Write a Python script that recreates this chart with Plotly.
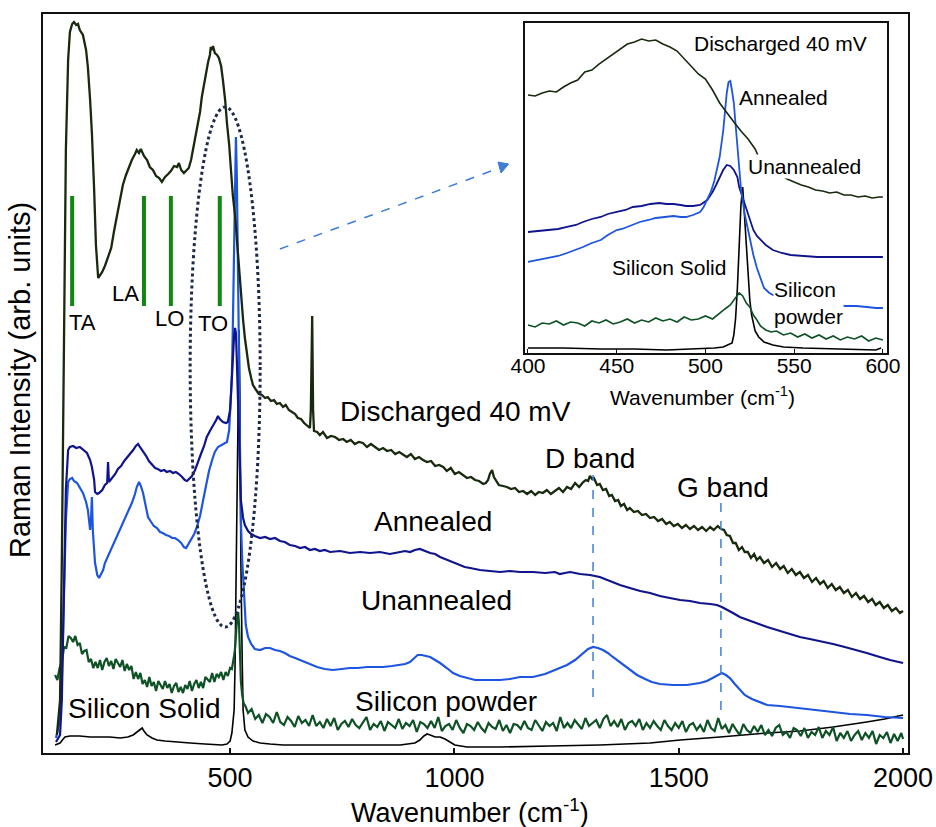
import plotly.graph_objects as go

FONT = "Liberation Sans, Arial, Helvetica, sans-serif"

# ---------------- main spectra: (wavenumber cm-1, intensity arb. units) ----------------
DISCHARGED = [(114,18),(121,53),(125,193),(130,403),(134,603),(139,693),(143,721),(148,729),(152,731),(157,728),
(161,729),(165,723),(172,718),(179,703),(183,686),(188,653),(192,620),(197,563),(201,508),(206,475),(210,478),
(215,481),(221,487),(228,495),(235,505),(241,521),(248,538),(255,557),(261,568),(268,578),(275,587),(281,593),
(288,599),(292,603),(297,600),(301,604),(308,597),(315,593),(321,586),(328,583),(335,577),(342,575),(348,571),
(355,576),(362,579),(368,582),(375,587),(382,586),(386,590),(391,583),(397,580),(404,583),(408,585),(413,593),
(417,603),(422,613),(426,625),(433,641),(437,656),(442,668),(446,681),(451,691),(455,698),(457,706),(460,703),
(462,707),(466,700),(471,698),(475,695),(480,687),(484,673),(489,653),(493,630),(498,608),(502,583),(506,558),
(511,538),(515,513),(520,488),(524,458),(529,433),(533,415),(538,398),(542,385),(547,375),(551,368),(558,363),
(564,359),(571,358),(578,355),(584,356),(591,352),(598,353),(604,349),(611,350),(618,346),(624,348),(631,343),
(638,341),(645,339),(651,335),(658,334),(665,330),(671,328),(678,325),(680,343),(683,437),(685,343),(687,322),
(694,321),(700,318),(707,321),(716,315),(725,317),(734,316),(743,313),(752,314),(760,311),(769,313),(778,309),
(787,311),(796,310),(805,306),(814,309),(823,306),(832,303),(841,305),(850,302),(859,303),(868,299),(877,301),
(885,299),(894,296),(903,299),(912,294),(921,296),(930,293),(939,291),(948,292),(957,287),(966,288),(975,286),
(983,282),(992,285),(1001,279),(1010,281),(1019,278),(1028,275),(1037,276),(1046,273),(1055,272),(1064,269),
(1070,270),(1075,273),(1079,279),(1084,283),(1088,276),(1093,272),(1099,268),(1108,267),(1117,266),(1126,264),
(1135,265),(1144,261),(1153,262),(1162,259),(1171,262),(1180,258),(1188,261),(1197,260),(1206,263),(1215,259),
(1224,262),(1233,265),(1242,261),(1251,266),(1260,264),(1269,270),(1278,266),(1287,271),(1293,273),(1298,272),
(1302,277),(1307,274),(1311,275),(1318,268),(1324,269),(1331,263),(1338,264),(1345,257),(1351,258),(1358,252),
(1365,253),(1371,247),(1378,249),(1385,243),(1391,245),(1400,241),(1409,242),(1418,238),(1427,239),(1436,235),
(1445,236),(1454,232),(1463,234),(1472,229),(1480,231),(1489,227),(1498,229),(1507,225),(1516,228),(1525,224),
(1534,227),(1543,223),(1552,226),(1561,222),(1570,226),(1578,223),(1587,227),(1594,224),(1601,223),(1607,218),
(1614,217),(1621,210),(1627,210),(1634,203),(1641,206),(1647,201),(1654,201),(1661,195),(1668,199),(1674,193),
(1681,196),(1690,190),(1699,193),(1708,186),(1717,190),(1726,184),(1734,187),(1743,180),(1752,184),(1761,178),
(1770,181),(1779,175),(1788,178),(1797,171),(1806,175),(1815,169),(1823,172),(1832,165),(1841,169),(1850,163),
(1859,166),(1868,160),(1877,163),(1886,156),(1895,160),(1904,154),(1913,157),(1922,151),(1931,154),(1939,148),
(1948,151),(1957,145),(1966,148),(1975,142),(1984,145),(1993,140),(2000,142)]

ANNEALED = [(112,11),(121,18),(125,53),(130,153),(134,263),(139,303),(143,306),(150,307),(157,305),(165,306),
(174,303),(181,300),(188,293),(192,286),(197,273),(199,261),(204,259),(208,260),(215,263),(221,268),(226,270),
(228,291),(230,271),(237,275),(244,279),(250,284),(257,287),(264,292),(270,295),(277,299),(284,303),(290,307),
(295,309),(299,306),(306,302),(313,297),(319,292),(326,288),(333,285),(339,284),(346,282),(353,283),(359,281),
(366,282),(373,280),(379,281),(386,279),(393,276),(399,273),(404,272),(408,274),(415,277),(422,283),(428,291),
(435,299),(442,307),(448,316),(455,322),(462,327),(469,333),(473,337),(477,334),(484,331),(491,330),(495,331),
(500,343),(502,358),(504,375),(506,398),(509,418),(511,425),(513,420),(515,393),(518,353),(520,313),(522,278),
(524,253),(529,235),(533,228),(540,222),(547,219),(555,217),(567,215),(578,216),(589,214),(600,215),(611,212),
(622,211),(633,208),(645,207),(656,205),(667,206),(678,203),(689,204),(700,202),(711,203),(723,201),(745,202),
(767,200),(790,201),(812,200),(834,201),(856,199),(879,201),(890,202),(901,201),(912,203),(923,204),(934,202),
(946,200),(957,199),(968,196),(979,194),(990,192),(1001,190),(1012,188),(1023,186),(1035,185),(1057,183),
(1079,182),(1102,181),(1124,182),(1146,181),(1175,181),(1202,180),(1224,181),(1235,179),(1246,180),(1258,181),
(1280,179),(1302,178),(1324,176),(1347,172),(1369,168),(1391,165),(1414,162),(1436,160),(1458,157),(1480,155),
(1503,153),(1525,152),(1547,150),(1570,149),(1585,148),(1596,146),(1607,143),(1621,140),(1636,136),(1659,132),
(1681,128),(1697,126),(1726,122),(1748,119),(1770,116),(1792,114),(1815,112),(1844,109),(1870,106),(1897,103),
(1919,100),(1948,96),(1971,93),(2000,90)]

UNANNEALED = [(112,15),(121,33),(125,73),(130,153),(134,233),(139,271),(143,274),(148,275),(152,272),(159,270),
(165,266),(172,260),(179,251),(183,243),(188,223),(190,233),(192,256),(194,223),(199,190),(204,178),(208,175),
(212,178),(217,183),(221,190),(228,197),(235,203),(241,210),(248,216),(255,223),(261,229),(268,236),(275,243),
(281,250),(288,259),(292,266),(297,271),(301,267),(306,260),(310,250),(317,236),(324,231),(330,227),(337,225),
(344,221),(350,220),(357,218),(364,217),(371,215),(377,215),(384,213),(391,210),(397,206),(402,205),(406,208),
(413,213),(420,219),(426,226),(433,237),(440,253),(446,268),(453,282),(460,293),(466,301),(473,306),(480,308),
(486,309),(493,311),(498,323),(500,340),(502,358),(504,378),(506,423),(509,503),(511,583),(513,616),(515,578),
(518,493),(520,393),(522,303),(524,233),(527,193),(531,153),(535,128),(540,116),(547,109),(555,104),(567,103),
(578,105),(589,105),(600,103),(611,102),(622,100),(633,97),(645,95),(656,93),(667,91),(678,89),(694,86),
(711,84),(729,83),(749,84),(767,85),(785,85),(805,86),(823,86),(841,86),(861,87),(879,88),(890,89),(901,91),
(910,95),(918,98),(927,98),(935,97),(946,96),(957,93),(968,90),(983,85),(997,80),(1012,77),(1028,75),(1046,73),
(1064,73),(1084,73),(1102,73),(1124,74),(1146,76),(1175,76),(1202,79),(1224,83),(1251,88),(1269,93),(1287,100),
(1298,104),(1309,106),(1320,105),(1331,103),(1342,100),(1353,96),(1365,92),(1376,88),(1391,83),(1407,78),
(1425,74),(1440,71),(1458,69),(1487,68),(1518,68),(1547,70),(1563,72),(1576,75),(1587,78),(1596,80),(1605,78),
(1614,75),(1625,69),(1636,63),(1647,58),(1663,54),(1681,51),(1697,48),(1726,47),(1748,46),(1770,45),(1803,43),
(1844,41),(1882,39),(1919,38),(1959,36),(2000,35)]

POWDER = [(110,78),(115,73),(120,85),(125,91),(130,106),(135,105),(140,117),(145,115),(150,111),(155,117),
(160,108),(165,110),(170,99),(175,102),(180,103),(185,91),(190,94),(195,85),(200,91),(205,85),(210,93),(215,83),
(220,91),(225,95),(230,87),(235,92),(240,84),(245,94),(250,90),(255,86),(260,93),(265,82),(270,89),(275,83),
(280,87),(285,74),(290,81),(295,74),(300,80),(305,69),(310,73),(315,66),(320,76),(325,67),(330,71),(335,62),
(340,72),(345,68),(350,64),(355,72),(360,65),(365,69),(370,60),(375,67),(380,70),(385,61),(390,66),(395,60),
(400,68),(405,64),(410,72),(415,62),(420,69),(425,73),(430,65),(435,71),(440,65),(445,76),(450,73),(455,71),
(460,80),(465,71),(470,79),(475,76),(480,81),(485,73),(490,81),(495,77),(500,85),(504,84),(507,92),(510,100),
(512,110),(514,125),(516,138),(518,141),(520,128),(522,100),(524,72),(527,58),(530,50),(535,46),(540,40),
(548,44),(556,34),(564,38),(572,30),(580,39),(588,36),(596,30),(604,41),(612,31),(620,28),
(628,36),(636,32),(644,26),(652,37),(660,30),(668,33),(676,27),(684,38),(692,27),(700,31),
(708,25),(716,34),(724,27),(732,35),(740,23),(748,29),(756,32),(764,26),(772,34),(780,28),
(788,25),(796,31),(804,36),(812,23),(820,29),(828,26),(836,32),(844,22),(852,31),(860,28),
(868,25),(876,34),(884,24),(892,30),(900,27),(908,33),(916,21),(924,31),(932,29),(940,25),
(948,32),(956,25),(964,36),(972,22),(980,27),(988,29),(996,23),(1004,33),(1012,25),(1020,20),
(1028,29),(1036,27),(1044,23),(1052,31),(1060,25),(1068,21),(1076,30),(1084,26),(1092,24),(1100,33),
(1108,22),(1116,28),(1124,20),(1132,29),(1140,28),(1148,24),(1156,32),(1164,25),(1172,23),(1180,33),
(1188,27),(1196,22),(1204,31),(1212,27),(1220,30),(1228,22),(1236,36),(1244,25),(1252,30),(1260,25),
(1268,33),(1276,28),(1284,24),(1292,35),(1300,27),(1308,30),(1316,33),(1324,25),(1332,34),(1340,38),
(1348,27),(1356,32),(1364,26),(1372,34),(1380,23),(1388,30),(1396,32),(1404,27),(1412,34),(1420,23),
(1428,30),(1436,25),(1444,32),(1452,27),(1460,23),(1468,33),(1476,27),(1484,23),(1492,30),(1500,25),
(1508,32),(1516,21),(1524,28),(1532,30),(1540,23),(1548,28),(1556,21),(1564,33),(1572,25),(1580,22),
(1588,35),(1596,24),(1604,28),(1612,20),(1620,29),(1628,23),(1636,18),(1644,29),(1652,23),(1660,20),
(1668,27),(1676,21),(1684,28),(1692,18),(1700,23),(1708,17),(1716,25),(1724,28),(1732,18),(1740,21),
(1748,15),(1756,25),(1764,23),(1772,17),(1780,25),(1788,15),(1796,21),(1804,18),(1812,26),(1820,15),
(1828,22),(1836,18),(1844,26),(1852,12),(1860,20),(1868,15),(1876,22),(1884,12),(1892,18),(1900,22),
(1908,13),(1916,20),(1924,15),(1932,22),(1940,9),(1948,18),(1956,15),(1964,21),(1972,10),(1980,19),
(1988,12),(1996,20),(2000,14)]

SOLID = [(110,8),(116,9),(121,10),(128,14),(132,16),(143,17),(165,17),(188,16),(210,16),(232,16),(255,15),
(272,16),(284,18),(292,21),(299,24),(304,25),(308,22),(315,18),(326,15),(337,13),(355,12),(377,11),(411,10),
(444,9),(466,8),(482,8),(493,9),(500,12),(504,20),(509,43),(511,86),(513,173),(515,273),(518,373),(520,423),
(522,353),(524,193),(527,93),(529,43),(533,23),(540,16),(551,12),(567,10),(589,9),(618,8),(656,8),(729,8),
(805,8),(879,8),(912,10),(923,13),(932,17),(939,19),(946,18),(957,16),(968,16),(979,14),(990,11),(1001,8),
(1028,6),(1102,6),(1213,7),(1324,8),(1436,10),(1503,13),(1592,16),(1697,20),(1770,22),(1844,26),(1919,31),
(1959,34),(2000,38)]

# ---------------- inset spectra (400-600 cm-1) ----------------
IN_DISCHARGED = [(400,258),(404,257),(408,260),(412,262),(416,261),(420,266),(424,270),(428,273),(432,281),
(436,283),(440,289),(444,294),(448,299),(452,304),(456,309),(460,311),(464,314),(468,312),(472,313),(476,309),
(480,306),(484,302),(488,294),(492,287),(496,279),(500,274),(504,263),(508,250),(512,240),(516,231),(520,222),
(524,214),(528,204),(530,196),(538,183),(546,174),(550,171),(554,168),(558,166),(562,163),(566,162),(570,160),
(574,161),(578,158),(582,158),(586,156),(590,157),(594,155),(598,156),(600,156)]

IN_ANNEALED = [(400,91),(406,93),(412,95),(417,97),(422,100),(427,103),(431,106),(436,110),(441,113),(445,118),
(450,123),(453,124),(456,126),(460,129),(463,131),(468,133),(472,135),(477,136),(482,137),(486,136),(489,136),
(493,138),(497,141),(499,146),(501,153),(503,161),(505,172),(507,186),(508,196),(510,222),(511,243),(512,260),
(513,271),(514,272),(515,262),(516,250),(517,228),(518,205),(519,180),(520,165),(522,140),(524,122),(525,113),
(527,98),(529,85),(531,75),(533,65),(536,60),(538,58),(550,53),(565,49),(579,47),(585,47),(591,46),(596,45),
(600,45)]

IN_UNANNEALED = [(400,121),(406,122),(412,123),(417,124),(422,126),(427,128),(431,131),(436,134),(441,136),
(445,139),(450,141),(455,143),(459,146),(464,147),(469,149),(474,150),(478,149),(482,149),(486,148),(489,147),
(493,147),(497,148),(501,153),(504,161),(506,168),(508,176),(510,183),(512,188),(514,187),(516,183),(518,176),
(519,166),(521,155),(523,143),(525,133),(527,123),(529,117),(531,113),(534,108),(538,103),(543,100),(548,98),
(555,97),(563,96),(572,96),(581,96),(590,96),(600,96)]

IN_POWDER = [(400,28),(404,26),(408,30),(412,29),(416,32),(420,28),(424,31),(428,30),(432,27),(436,32),(440,30),
(444,33),(448,29),(452,31),(456,34),(460,30),(464,33),(468,31),(472,35),(476,32),(480,34),(484,31),(488,36),
(492,33),(496,34),(500,37),(504,34),(508,40),(511,44),(514,48),(517,55),(519,60),(521,57),(523,50),(525,46),
(527,38),(529,33),(531,27),(534,23),(537,21),(540,22),(544,18),(548,20),(552,16),(556,19),(560,15),(564,18),
(568,14),(572,17),(576,13),(580,16),(584,14),(588,17),(592,12),(596,15),(600,13)]

IN_SOLID = [(400,5),(420,5),(441,4),(460,4),(478,3),(497,4),(505,5),(510,6),(513,8),(515,10),(516,18),(517,35),
(518,65),(519,110),(520,148),(521,166),(522,140),(523,110),(524,80),(525,53),(526,38),(527,28),(528,22),
(530,16),(533,11),(538,8),(544,6),(555,5),(572,4),(590,3),(596,3),(599,5)]

PHONON_MODES = ["TA", "LA", "LO", "TO"]
PHONON_WN = [148, 308, 368, 477]
MAIN_TICKS = [500, 1000, 1500, 2000]
INSET_TICKS = [400, 450, 500, 550, 600]
D_BAND_WN = 1309
G_BAND_WN = 1594

C_DIS = "#18290e"
C_ANN = "#10148c"
C_UNA = "#1e55e0"
C_POW = "#0d5125"
C_SOL = "#000000"
C_BAR = "#138513"
C_ACC = "#3d7fd6"
C_ELL = "#1b2a49"


def split(seq):
    return [p[0] for p in seq], [p[1] for p in seq]


fig = go.Figure()

for data, color, w in [(SOLID, C_SOL, 1.6), (POWDER, C_POW, 2.2), (UNANNEALED, C_UNA, 2.2),
                       (ANNEALED, C_ANN, 2.2), (DISCHARGED, C_DIS, 2.3)]:
    x, y = split(data)
    fig.add_trace(go.Scatter(x=x, y=y, mode="lines", line=dict(color=color, width=w),
                             xaxis="x", yaxis="y", showlegend=False, hoverinfo="skip"))

for data, color, w in [(IN_SOLID, C_SOL, 1.6), (IN_POWDER, C_POW, 1.6), (IN_UNANNEALED, C_ANN, 1.8),
                       (IN_ANNEALED, C_UNA, 1.8), (IN_DISCHARGED, C_DIS, 1.6)]:
    x, y = split(data)
    fig.add_trace(go.Scatter(x=x, y=y, mode="lines", line=dict(color=color, width=w),
                             xaxis="x2", yaxis="y2", showlegend=False, hoverinfo="skip"))

shapes = []
for wn in PHONON_WN:
    shapes.append(dict(type="line", xref="x", yref="y", x0=wn, x1=wn, y0=447, y1=557,
                       line=dict(color=C_BAR, width=4)))
shapes.append(dict(type="circle", xref="x", yref="y", x0=411, x1=567, y0=126, y1=646,
                   line=dict(color=C_ELL, width=3, dash="dot")))
shapes.append(dict(type="line", xref="x", yref="y", x0=D_BAND_WN, x1=D_BAND_WN, y0=56, y1=278,
                   line=dict(color=C_ACC, width=1.5, dash="dash")))
shapes.append(dict(type="line", xref="x", yref="y", x0=G_BAND_WN, x1=G_BAND_WN, y0=43, y1=250,
                   line=dict(color=C_ACC, width=1.5, dash="dash")))
shapes.append(dict(type="line", xref="x", yref="y", x0=611, y0=504, x1=1100, y1=585,
                   line=dict(color=C_ACC, width=1.5, dash="dash")))
shapes.append(dict(type="path", xref="x", yref="y", path="M 1121,589 L 1104,580 L 1097,591 Z",
                   fillcolor=C_ACC, line=dict(color=C_ACC, width=1)))

ann = []
def label(text, x, y, size, xref="x", yref="y", bg=None, xanchor="center", align="center"):
    d = dict(text=text, x=x, y=y, xref=xref, yref=yref, showarrow=False, xanchor=xanchor,
             yanchor="middle", align=align, font=dict(family=FONT, size=size, color="black"))
    if bg:
        d.update(bgcolor=bg, borderpad=0)
    ann.append(d)

for name, x, y in zip(PHONON_MODES, [172, 266, 366, 462], [431, 460, 435, 430]):
    label(name, x, y, 22)
label("Discharged 40 mV", 1003, 342, 28)
label("Annealed", 952, 232, 28)
label("Unannealed", 961, 153, 28)
label("Silicon powder", 981, 52, 28)
label("Silicon Solid", 310, 45, 28)
label("D band", 1302, 295, 28)
label("G band", 1598, 266, 28)

label("Discharged 40 mV", 542.5, 310, 21, "x2", "y2")
label("Annealed", 544, 256, 21, "x2", "y2", bg="white")
label("Unannealed", 556, 186, 21, "x2", "y2", bg="white")
label("Silicon Solid", 479.4, 85, 21, "x2", "y2")
label("Silicon<br>powder", 538, 49.5, 21, "x2", "y2", bg="white", xanchor="left", align="left")
label("Wavenumber (cm<sup>-1</sup>)", 0.763, 0.4831, 21, "paper", "paper")

label("Wavenumber (cm<sup>-1</sup>)", 0.4936, -0.0785, 27, "paper", "paper")
ann.append(dict(text="Raman Intensity (arb. units)", x=-0.0266, y=0.5047, xref="paper", yref="paper",
                showarrow=False, textangle=-90, xanchor="center", yanchor="middle",
                font=dict(family=FONT, size=29, color="black")))

axis_common = dict(showgrid=False, zeroline=False, showline=True, mirror=True, linecolor="#111",
                   automargin=False)

fig.update_layout(
    width=936, height=827,
    margin=dict(l=43, r=28, t=14, b=74, autoexpand=False),
    paper_bgcolor="white", plot_bgcolor="white",
    showlegend=False,
    font=dict(family=FONT, color="black"),
    xaxis=dict(domain=[0, 1], range=[83, 2011], tickvals=MAIN_TICKS, ticks="inside", ticklen=5,
               tickwidth=1.5, tickcolor="#111", linewidth=2, tickfont=dict(size=27), anchor="y",
               **axis_common),
    yaxis=dict(domain=[0, 1], range=[0, 739], showticklabels=False, ticks="", linewidth=2,
               anchor="x", **axis_common),
    xaxis2=dict(domain=[0.5572, 0.9757], range=[398.3, 602.3], tickvals=INSET_TICKS, ticks="inside",
                ticklen=4, tickwidth=1.2, tickcolor="#111", linewidth=1.5, tickfont=dict(size=21),
                ticklabelstandoff=-7, anchor="y2", **axis_common),
    yaxis2=dict(domain=[0.5413, 0.9878], range=[0, 330], showticklabels=False, ticks="", linewidth=1.5,
                anchor="x2", **axis_common),
    shapes=shapes,
    annotations=ann,
)

fig.write_html("out.html")
